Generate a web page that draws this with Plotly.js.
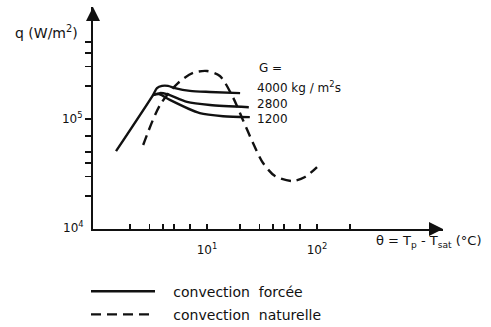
<!DOCTYPE html>
<html>
<head>
<meta charset="utf-8">
<script src="https://cdn.plot.ly/plotly-3.0.1.min.js"></script>
<style>html,body{margin:0;padding:0;background:#fff;}#chart{width:491px;height:327px;}</style>
</head>
<body>
<div id="chart"></div>
<script>
// Forced convection, G = 4000 kg/m2s
const g4000X = [1.49, 3.23, 3.51, 3.9, 4.42, 5.12, 7.0, 10.6, 20];
const g4000Y = [51000, 165000, 191000, 200000, 200000, 191000, 180000, 176000, 172000];
// G = 2800
const g2800X = [3.23, 3.74, 4.33, 6.58, 10.65, 24.0];
const g2800Y = [165000, 172000, 168000, 143000, 134000, 128000];
// G = 1200
const g1200X = [3.23, 3.7, 4.6, 8.6, 14, 24.5];
const g1200Y = [165000, 168000, 149000, 113000, 106000, 104000];
// Natural convection
const natX = [2.63, 3.74, 5.45, 7.46, 10, 13.1, 17.2, 21.2, 26.2, 32.3, 41.5, 59.3, 77.8, 100];
const natY = [58000, 134000, 212000, 262000, 273000, 246000, 158000, 98000, 60500, 39800, 30300, 27300, 29700, 36600];

const xTickVals = [2, 3, 4, 5, 7, 10, 20, 30, 40, 50, 70, 100, 200];
const xTickText = ['', '', '', '', '', '10<sup>1</sup>', '', '', '', '', '', '10<sup>2</sup>', ''];
const yTickVals = [20000, 30000, 40000, 50000, 70000, 100000, 200000, 300000, 400000, 500000];
const yTickText = ['', '', '', '', '', '10<sup>5</sup>', '', '', '', ''];

const gLabels = ['4000 kg / m<sup>2</sup>s', '2800', '1200'];
const gLabelPos = [27.5, 140000];

const FONT = 'DejaVu Sans, sans-serif';
const NB = '\u00a0\u00a0\u00a0';
const solid = {color: '#111', width: 2.4, shape: 'spline', smoothing: 0.7};

const traces = [
  {x: g4000X, y: g4000Y, mode: 'lines', line: solid, name: NB + 'convection  forcée', showlegend: true, legendgroup: 'f'},
  {x: g2800X, y: g2800Y, mode: 'lines', line: solid, showlegend: false, legendgroup: 'f'},
  {x: g1200X, y: g1200Y, mode: 'lines', line: solid, showlegend: false, legendgroup: 'f'},
  {x: natX, y: natY, mode: 'lines', name: NB + 'convection  naturelle', legendgroup: 'n',
   line: {color: '#111', width: 2.4, dash: '10px,6px', shape: 'spline', smoothing: 0.8}}
];

const annotations = [
  {xref: 'paper', yref: 'paper', x: -0.23, y: 0.887, text: 'q (W/m<sup>2</sup>)', showarrow: false,
   xanchor: 'left', yanchor: 'middle', font: {family: FONT, size: 14, color: '#111'}},
  {xref: 'paper', yref: 'paper', x: 1.116, y: -0.055, text: 'θ = T<sub>p</sub> - T<sub>sat</sub> (°C)', showarrow: false,
   xanchor: 'right', yanchor: 'middle', font: {family: FONT, size: 13, color: '#111'}},
  {xref: 'paper', yref: 'paper', x: -0.02, y: 0.01, text: '10<sup>4</sup>', showarrow: false,
   xanchor: 'right', yanchor: 'middle', font: {family: FONT, size: 12, color: '#111'}},
  {x: Math.log10(28.3), y: Math.log10(291000), text: 'G =', showarrow: false, xanchor: 'left',
   font: {family: FONT, size: 12, color: '#111'}},
  {x: Math.log10(gLabelPos[0]), y: Math.log10(gLabelPos[1]), text: gLabels.join('<br>'), showarrow: false,
   xanchor: 'left', yanchor: 'middle', align: 'left', font: {family: FONT, size: 12, color: '#111'}},
  // axis arrows
  {xref: 'paper', yref: 'paper', x: 1, y: 0, axref: 'pixel', ayref: 'pixel', ax: -14, ay: 0, text: '',
   showarrow: true, arrowhead: 2, arrowsize: 1.4, arrowwidth: 2, arrowcolor: '#111'},
  {xref: 'paper', yref: 'paper', x: 0, y: 1, axref: 'pixel', ayref: 'pixel', ax: 0, ay: 14, text: '',
   showarrow: true, arrowhead: 2, arrowsize: 1.4, arrowwidth: 2, arrowcolor: '#111'}
];

const layout = {
  width: 491, height: 327,
  margin: {l: 93, r: 48, t: 7, b: 98, autoexpand: false},
  paper_bgcolor: '#fff', plot_bgcolor: '#fff',
  font: {family: FONT, color: '#111'},
  xaxis: {type: 'log', range: [-0.036, 3.145], showgrid: false, zeroline: false,
    showline: true, linecolor: '#111', linewidth: 2,
    ticks: 'inside', ticklen: 5, tickwidth: 1.5, tickcolor: '#111',
    tickvals: xTickVals, ticktext: xTickText, ticklabelstandoff: 9,
    tickfont: {family: FONT, size: 12, color: '#111'}, automargin: false},
  yaxis: {type: 'log', range: [4, 6.018], showgrid: false, zeroline: false,
    showline: true, linecolor: '#111', linewidth: 2,
    ticks: 'outside', ticklen: 6, tickwidth: 1.5, tickcolor: '#111',
    tickvals: yTickVals, ticktext: yTickText,
    tickfont: {family: FONT, size: 12, color: '#111'}, automargin: false},
  showlegend: true,
  legend: {x: -0.02, xanchor: 'left', y: -0.21, yanchor: 'top',
    orientation: 'v', itemwidth: 64, tracegroupgap: 2, bgcolor: 'rgba(0,0,0,0)',
    font: {family: FONT, size: 14, color: '#111'}},
  annotations: annotations
};

Plotly.newPlot('chart', traces, layout, {displayModeBar: false, staticPlot: true});
</script>
</body>
</html>
